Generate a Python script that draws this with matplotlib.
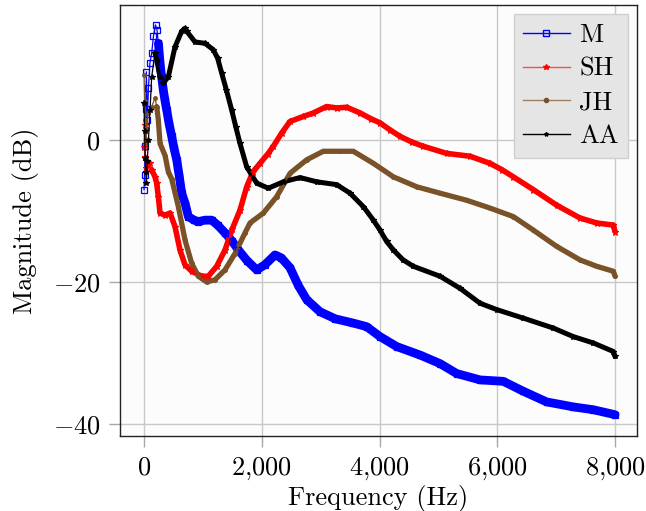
import matplotlib
matplotlib.use("Agg")
import matplotlib.pyplot as plt
from matplotlib.lines import Line2D
from matplotlib.ticker import FuncFormatter

plt.rcParams['font.family'] = 'serif'
plt.rcParams['font.serif'] = ['cmr10']
plt.rcParams['mathtext.fontset'] = 'cm'
plt.rcParams['axes.unicode_minus'] = True

# ---- data ----
freq_m = [0, 10, 20, 30, 40, 55, 75, 100, 130, 160, 195, 220, 245, 272, 300, 328, 355, 385, 425,
          470, 510, 555, 600, 640, 700, 753, 850, 923, 1036, 1149, 1250, 1376, 1500, 1602, 1750,
          1914, 2050, 2225, 2330, 2480, 2620, 2763, 2989, 3250, 3555, 3782, 4008, 4291, 4688,
          5027, 5310, 5707, 6102, 6442, 6839, 7291, 7631, 8000]
db_m = [-7.0, -4.9, -0.9, 4.4, 9.6, 2.8, 7.3, 10.8, 12.2, 14.6, 16.2, 15.5, 13.6, 10.8, 8.8, 7.0,
        5.6, 4.2, 2.3, 0.5, -1.2, -2.8, -5.2, -7.5, -9.0, -10.8, -11.3, -11.5, -11.3, -11.3,
        -12.0, -13.1, -14.3, -15.5, -17.0, -18.3, -17.6, -16.2, -16.6, -18.0, -20.5, -22.5,
        -24.2, -25.2, -25.8, -26.3, -27.7, -29.1, -30.3, -31.5, -32.9, -33.8, -34.0, -35.4,
        -36.9, -37.6, -38.0, -38.7]

freq_sh = [0, 10, 20, 30, 45, 75, 102, 130, 187, 215, 243, 272, 357, 442, 526, 611, 696, 810,
           980, 1092, 1234, 1376, 1500, 1630, 1744, 1850, 1970, 2100, 2196, 2340, 2480, 2706,
           2876, 3102, 3272, 3442, 3669, 3850, 4008, 4180, 4348, 4550, 4744, 5141, 5537, 5876,
           6080, 6272, 6612, 7009, 7405, 7688, 7971, 8000]
db_sh = [-1.0, 2.1, -2.4, -4.0, -3.0, -3.5, -3.3, -4.2, -5.2, -6.1, -8.0, -10.3, -10.6, -10.3,
         -12.2, -15.5, -17.6, -18.5, -19.2, -19.2, -17.8, -15.5, -12.5, -9.9, -6.6, -4.5, -3.3,
         -2.0, -0.9, 1.0, 2.6, 3.3, 3.8, 4.7, 4.5, 4.6, 3.8, 3.0, 2.4, 1.4, 0.5, -0.3, -0.9,
         -1.9, -2.3, -3.3, -4.2, -5.2, -7.0, -9.2, -11.0, -11.7, -12.0, -12.9]

freq_jh = [0, 10, 20, 30, 45, 73, 130, 187, 215, 243, 272, 357, 413, 470, 583, 696, 810, 923,
           1064, 1206, 1376, 1545, 1715, 1800, 2027, 2253, 2480, 2763, 3045, 3329, 3555, 3895,
           4235, 4631, 5027, 5480, 5876, 6272, 6612, 7009, 7405, 7688, 7971, 8000]
db_jh = [9.2, 5.5, 2.8, -0.5, 1.5, 3.8, 4.7, 5.9, 4.7, 2.8, -0.5, -2.2, -4.5, -5.5, -9.4, -14.1,
         -17.4, -19.2, -20.0, -19.7, -18.3, -16.0, -13.1, -11.7, -10.3, -8.0, -4.7, -2.8, -1.6,
         -1.6, -1.6, -3.3, -5.2, -6.6, -7.5, -8.5, -9.6, -10.8, -12.7, -15.0, -16.9, -17.8,
         -18.5, -19.2]

freq_aa = [0, 10, 20, 30, 40, 55, 75, 102, 130, 187, 215, 272, 328, 413, 526, 640, 690, 725,
           866, 1036, 1177, 1250, 1319, 1400, 1489, 1560, 1630, 1744, 1914, 2112, 2366, 2650,
           2933, 3272, 3499, 3725, 3895, 4008, 4120, 4235, 4400, 4574, 5027, 5367, 5707, 5990,
           6442, 6952, 7291, 7631, 7971, 8000]
db_aa = [5.2, 1.2, -2.5, -4.5, -6.1, -3.0, 0.0, 4.2, 8.9, 12.2, 11.3, 8.9, 8.0, 8.9, 13.1, 15.3,
         15.7, 15.3, 13.8, 13.6, 12.7, 11.5, 9.4, 7.0, 4.2, 1.8, -0.5, -3.8, -6.1, -6.8, -5.9,
         -5.3, -5.9, -6.3, -7.5, -9.4, -11.3, -12.7, -14.3, -15.5, -16.9, -17.8, -19.2, -20.9,
         -23.0, -23.9, -25.1, -26.5, -27.7, -28.6, -29.8, -30.5]

brown = '#7a5229'

fig = plt.figure(figsize=(6.46, 5.11), dpi=100)
ax = fig.add_axes([120 / 646, 1 - 436 / 511, 517 / 646, 431 / 511])
ax.set_facecolor('#fcfcfc')

# (freq, db, colour, marker, marker size, band width, band start index)
series = [
    (freq_m, db_m, 'blue', 's', 4.0, 6.3, 12),
    (freq_sh, db_sh, 'red', '*', 4.5, 4.0, 7),
    (freq_jh, db_jh, brown, 'o', 2.6, 3.8, 8),
    (freq_aa, db_aa, 'black', '*', 4.0, 3.6, 9),
]
for f, d, c, mk, ms, bw, i0 in series:
    ax.plot(f[i0:], d[i0:], color=c, lw=bw, solid_capstyle='round', solid_joinstyle='round', zorder=3)
    mfc = 'none' if mk == 's' else c
    ax.plot(f, d, color=c, lw=0.9, marker=mk, ms=ms, mfc=mfc, mec=c, mew=0.9, zorder=4)

ax.set_xlim(-408, 8373)
ax.set_ylim(-41.7, 19.0)
ax.set_xticks([0, 2000, 4000, 6000, 8000])
ax.set_yticks([-40, -20, 0])
ax.xaxis.set_major_formatter(FuncFormatter(lambda v, p: '$%s$' % format(int(v), ',').replace(',', '{,}')))
ax.yaxis.set_major_formatter(FuncFormatter(lambda v, p: '$%d$' % v))
ax.grid(True, color='#c8c8c8', lw=1.0)
ax.set_axisbelow(True)
ax.tick_params(direction='out', length=8, width=1.0, color='#a8a8a8', labelsize=19, pad=6)
for s in ax.spines.values():
    s.set_linewidth(1.0)
    s.set_color('#222222')

ax.set_xlabel('Frequency (Hz)', fontsize=19, labelpad=2)
ax.set_ylabel('Magnitude (dB)', fontsize=19, labelpad=10)

handles = [
    Line2D([], [], color='blue', lw=1, marker='s', ms=4, mfc='none'),
    Line2D([], [], color='#f05050', lw=1, marker='*', ms=4, mfc='red', mec='red'),
    Line2D([], [], color='#a08060', lw=1, marker='o', ms=3, mfc=brown, mec=brown),
    Line2D([], [], color='black', lw=1, marker='*', ms=3),
]
leg = ax.legend(handles, ['M', 'SH', 'JH', 'AA'], loc='upper right', fontsize=19,
                fancybox=False, framealpha=1, handlelength=1.8, borderpad=0.35,
                labelspacing=0.38, handletextpad=0.35, borderaxespad=0,
                bbox_to_anchor=(0.983, 0.979))
leg.get_frame().set_facecolor('#e5e5e5')
leg.get_frame().set_edgecolor('#d0d0d0')

fig.savefig('out.png', dpi=100)
